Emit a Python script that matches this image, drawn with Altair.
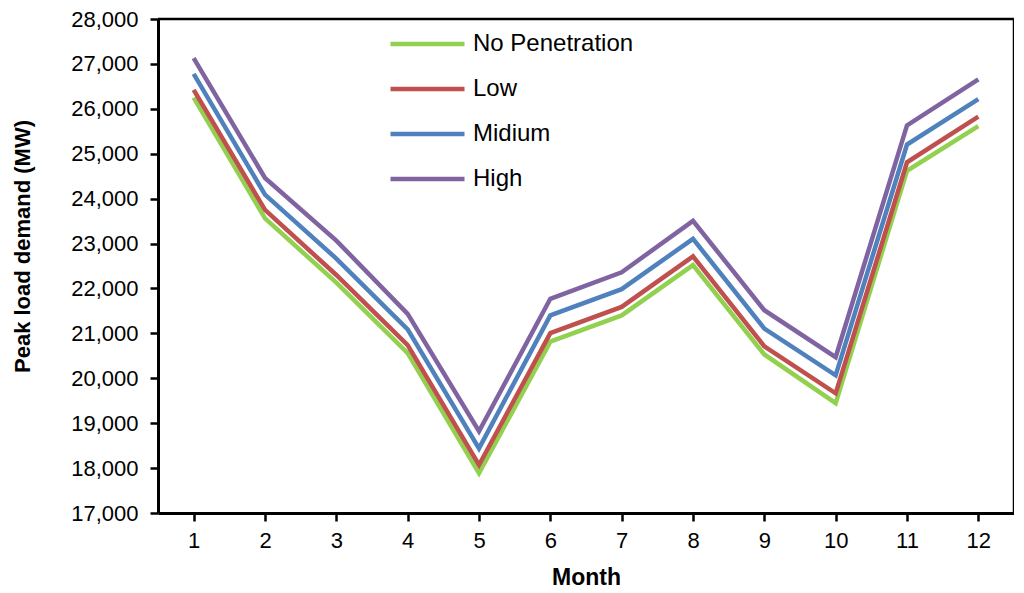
import altair as alt
import pandas as pd

months = list(range(1, 13))
series_names = ["No Penetration", "Low", "Midium", "High"]
colors = ["#92D050", "#C0504D", "#4F81BD", "#8064A2"]

no_penetration = [26250, 23560, 22130, 20560, 17885, 20815, 21400, 22520, 20530, 19445, 24620, 25615]
low = [26420, 23750, 22300, 20740, 18070, 21005, 21590, 22715, 20710, 19665, 24810, 25825]
midium = [26780, 24090, 22665, 21090, 18440, 21400, 21985, 23105, 21105, 20065, 25205, 26215]
high = [27130, 24460, 23065, 21435, 18820, 21770, 22360, 23505, 21515, 20470, 25630, 26655]

y_ticks = list(range(17000, 28001, 1000))
x_domain = [0.5, 12.5]
y_domain = [17000, 28000]

rows = []
for name, vals in zip(series_names, [no_penetration, low, midium, high]):
    for m, v in zip(months, vals):
        rows.append({"Month": m, "Value": v, "Series": name})
df = pd.DataFrame(rows)

FONT = "Liberation Sans"
x_scale = alt.Scale(domain=x_domain, nice=False, zero=False)
y_scale = alt.Scale(domain=y_domain, nice=False, zero=False)

x_axis = alt.Axis(values=months, format="d", grid=False,
                  labelFontSize=22, labelFont=FONT, labelColor="black",
                  labelPadding=9, tickSize=8, tickWidth=2.5, tickColor="black",
                  domainColor="black", domainWidth=3,
                  titleFont=FONT, titleFontSize=23, titleFontWeight="bold",
                  titleColor="black", titleY=64, titleBaseline="middle")
y_axis = alt.Axis(values=y_ticks, format=",.0f", grid=False,
                  labelFontSize=22, labelFont=FONT, labelColor="black",
                  labelPadding=12, tickSize=8, tickWidth=2.5, tickColor="black",
                  domainColor="black", domainWidth=3,
                  titleFont=FONT, titleFontSize=22, titleFontWeight="bold",
                  titleColor="black", titleX=-136, titleY=227,
                  titleBaseline="middle", titleAlign="center", titleAngle=-90)

lines = alt.Chart(df).mark_line(strokeWidth=4.5).encode(
    x=alt.X("Month:Q", scale=x_scale, axis=x_axis, title="Month"),
    y=alt.Y("Value:Q", scale=y_scale, axis=y_axis, title="Peak load demand (MW)"),
    color=alt.Color("Series:N",
                    scale=alt.Scale(domain=series_names, range=colors),
                    legend=alt.Legend(title=None, orient="none", legendX=230, legendY=13,
                                      symbolType="stroke", symbolSize=5476, symbolStrokeWidth=4.5,
                                      clipHeight=24, rowPadding=21, labelOffset=6,
                                      labelFont=FONT, labelFontSize=24, labelColor="black",
                                      labelLimit=400, padding=0)),
)

top_rule = alt.Chart(pd.DataFrame({"v": [y_domain[1]]})).mark_rule(
    color="black", strokeWidth=2.5
).encode(y=alt.Y("v:Q", scale=y_scale, axis=y_axis, title="Peak load demand (MW)"))

right_rule = alt.Chart(pd.DataFrame({"m": [x_domain[1]]})).mark_rule(
    color="black", strokeWidth=2.5
).encode(x=alt.X("m:Q", scale=x_scale, axis=x_axis, title="Month"))

chart = alt.layer(lines, top_rule, right_rule).properties(
    width=856, height=494,
    background="white",
    autosize=alt.AutoSizeParams(type="none"),
    padding={"left": 150, "top": 11, "right": 0, "bottom": 76},
).configure_view(
    stroke=None
)

chart.save("out.html", embed_options={"renderer": "svg", "actions": False})
